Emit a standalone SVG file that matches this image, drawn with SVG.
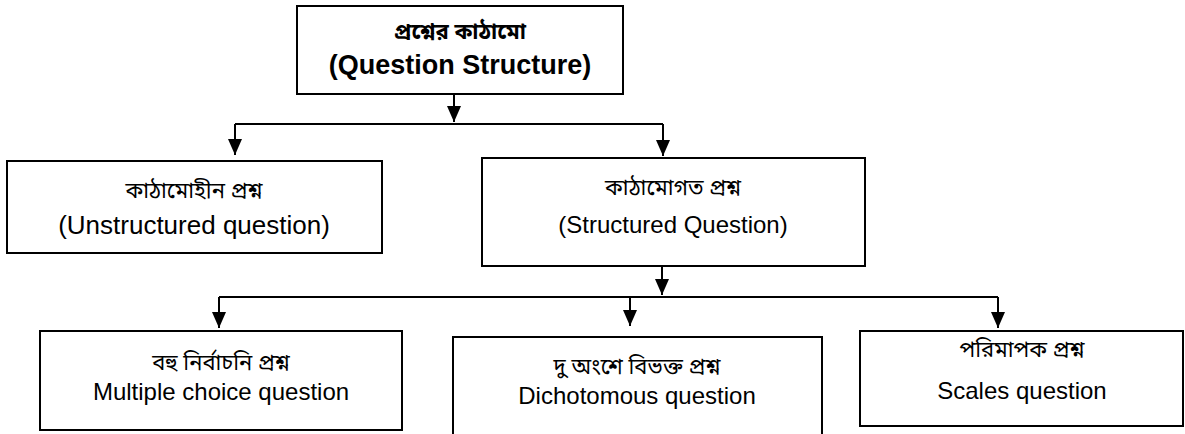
<svg xmlns="http://www.w3.org/2000/svg" width="1185" height="434" viewBox="0 0 1185 434">
  <style>
    .box { fill: #ffffff; stroke: #000000; stroke-width: 2; }
    .conn { fill: none; stroke: #000000; stroke-width: 2; }
    .bn { font-family: "Noto Sans Bengali", "Noto Serif Bengali", "Lohit Bengali", "Liberation Sans", sans-serif; font-size: 22px; fill: #000000; text-anchor: middle; }
    .en { font-family: "Liberation Sans", Arial, sans-serif; font-size: 24px; fill: #000000; text-anchor: middle; }
    .bold { font-weight: bold; }
  </style>
  <defs>
    <marker id="arrow" viewBox="0 0 16 14" refX="16" refY="7" markerWidth="16" markerHeight="14" markerUnits="userSpaceOnUse" orient="auto">
      <path d="M0,0 L16,7 L0,14 Z" fill="#000000"/>
    </marker>
  </defs>
  <rect width="1185" height="434" fill="#ffffff"/>

  <g id="connectors">
    <path class="conn" d="M454,94 V122" marker-end="url(#arrow)"/>
    <path class="conn" d="M235,124 H663"/>
    <path class="conn" d="M235,124 V155" marker-end="url(#arrow)"/>
    <path class="conn" d="M663,124 V156" marker-end="url(#arrow)"/>
    <path class="conn" d="M662,266 V295" marker-end="url(#arrow)"/>
    <path class="conn" d="M219,297 H998"/>
    <path class="conn" d="M219,297 V328" marker-end="url(#arrow)"/>
    <path class="conn" d="M630,297 V326" marker-end="url(#arrow)"/>
    <path class="conn" d="M998,297 V328" marker-end="url(#arrow)"/>
  </g>

  <g id="node-question-structure">
    <rect class="box" x="297" y="6" width="326" height="88"/>
    <text class="bn bold" x="460" y="39">প্রশ্নের কাঠামো</text>
    <text class="en bold" x="460" y="74" style="font-size:27px">(Question Structure)</text>
  </g>

  <g id="node-unstructured">
    <rect class="box" x="7" y="161" width="375" height="92"/>
    <text class="bn" x="194" y="198">কাঠামোহীন প্রশ্ন</text>
    <text class="en" x="194" y="234" style="font-size:26px">(Unstructured question)</text>
  </g>

  <g id="node-structured">
    <rect class="box" x="482" y="158" width="383" height="108"/>
    <text class="bn" x="673" y="195">কাঠামোগত প্রশ্ন</text>
    <text class="en" x="673" y="233">(Structured Question)</text>
  </g>

  <g id="node-multiple-choice">
    <rect class="box" x="40" y="331" width="362" height="99"/>
    <text class="bn" x="221" y="370">বহু নির্বাচনি প্রশ্ন</text>
    <text class="en" x="221" y="400">Multiple choice question</text>
  </g>

  <g id="node-dichotomous">
    <path class="box" d="M453,440 V337 H822 V440"/>
    <text class="bn" x="637" y="374">দু অংশে বিভক্ত প্রশ্ন</text>
    <text class="en" x="637" y="404">Dichotomous question</text>
  </g>

  <g id="node-scales">
    <rect class="box" x="860" y="331" width="323" height="95"/>
    <text class="bn" x="1022" y="357">পরিমাপক প্রশ্ন</text>
    <text class="en" x="1022" y="399">Scales question</text>
  </g>
</svg>
